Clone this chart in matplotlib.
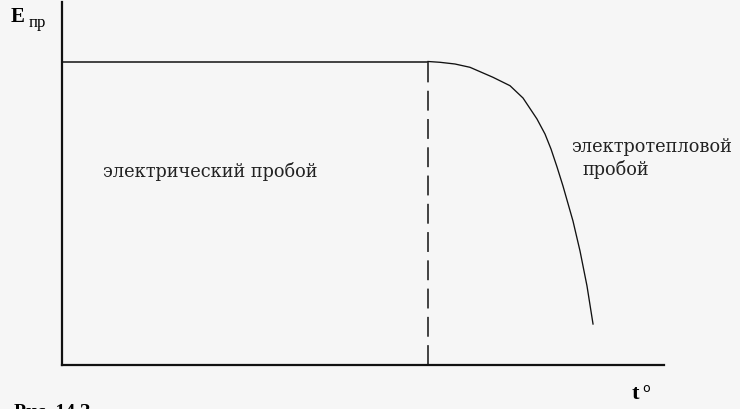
import matplotlib
matplotlib.use("Agg")
import matplotlib.pyplot as plt

# breakdown strength vs temperature (arbitrary units)
t_flat = [0.0, 60.8]
e_flat = [83.6, 83.6]

t_curve = [60.80, 62.79, 65.28, 67.77, 71.59, 74.42, 76.58, 78.90, 80.23,
           81.23, 82.23, 83.22, 84.88, 86.05, 87.21, 88.21]
e_curve = [83.61, 83.39, 82.92, 82.01, 79.26, 76.94, 73.55, 67.77, 63.64,
           59.50, 54.55, 49.31, 39.67, 31.40, 21.76, 11.29]

t_boundary = 60.8

label_electric = "электрический пробой"
label_thermal = "электротепловой\n  пробой"

W, H = 740, 410
bg = "#f6f6f6"


def fx(px):
    return px / W


def fy(py):
    return 1 - py / H


fig = plt.figure(figsize=(W / 100, H / 100), dpi=100, facecolor=bg)
ax = fig.add_axes([fx(62), fy(366), (664 - 62) / W, (366 - 3) / H])
ax.set_facecolor(bg)
ax.set_xlim(0, 100)
ax.set_ylim(0, 100)

for side in ("top", "right"):
    ax.spines[side].set_visible(False)
for side in ("left", "bottom"):
    ax.spines[side].set_linewidth(1.6)
    ax.spines[side].set_color("#111111")
ax.set_xticks([])
ax.set_yticks([])

ax.plot(t_flat, e_flat, color="#111111", lw=1.1)
ax.plot(t_curve, e_curve, color="#111111", lw=0.95, solid_joinstyle="round")
ax.plot([t_boundary, t_boundary], [0, e_flat[0]], color="#111111", lw=1.1,
        dashes=(13, 5.5))

serif = "DejaVu Serif"
fig.text(fx(103), fy(177), label_electric, family=serif, fontsize=12.8,
         va="baseline", ha="left", color="#222222")
fig.text(fx(571), fy(152), "электротепловой", family=serif, fontsize=12.8,
         va="baseline", ha="left", color="#222222")
fig.text(fx(582), fy(175), "пробой", family=serif, fontsize=12.8,
         va="baseline", ha="left", color="#222222")

# axis labels
fig.text(fx(11), fy(22), "E", family="Liberation Serif", fontsize=15,
         fontweight="bold", va="baseline", ha="left")
fig.text(fx(29), fy(27), "пр", family="Liberation Serif", fontsize=12,
         va="baseline", ha="left")
fig.text(fx(632), fy(399), "t", family="Liberation Serif", fontsize=16,
         fontweight="bold", va="baseline", ha="left")
fig.text(fx(642), fy(392), "o", family="DejaVu Sans", fontsize=9,
         va="baseline", ha="left")

# caption, cut off at the bottom edge as in the source scan
fig.text(fx(14), fy(404), "Рис. 14 З", family="Liberation Serif", fontsize=14,
         fontweight="bold", va="top", ha="left")

fig.savefig("out.png", dpi=100, facecolor=bg)
